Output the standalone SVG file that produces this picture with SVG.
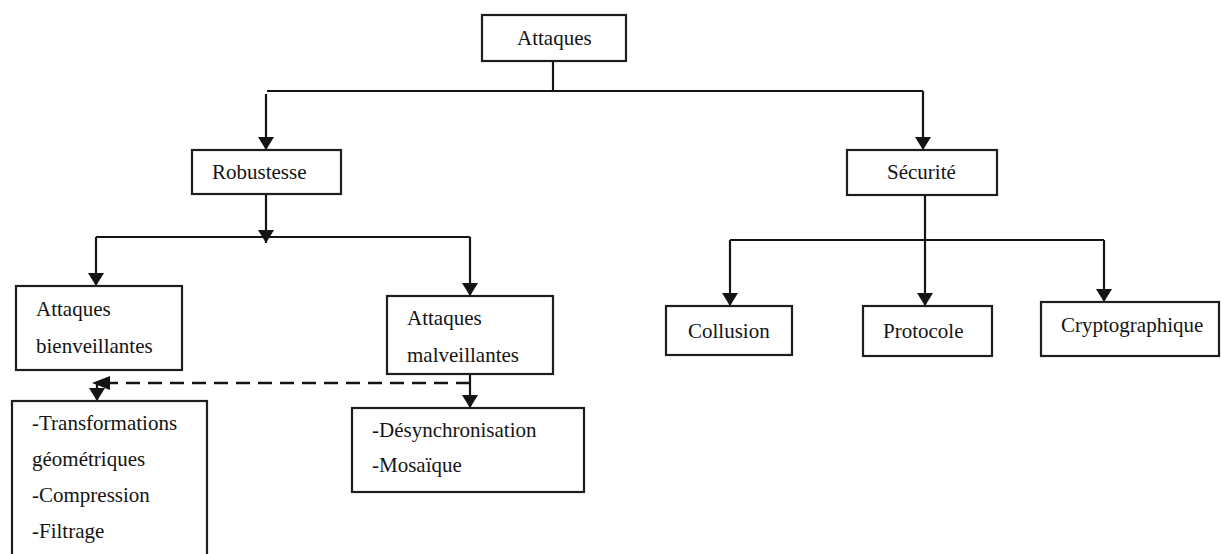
<svg xmlns="http://www.w3.org/2000/svg" width="1221" height="554" viewBox="0 0 1221 554">
  <style>
    .box { fill: #ffffff; stroke: #1e1e1e; stroke-width: 2.2; }
    .lbl { font-family: "Liberation Serif", "Times New Roman", serif; font-size: 21px; fill: #141414; }
    .wire { fill: none; stroke: #141414; stroke-width: 2.2; }
    .dash { fill: none; stroke: #141414; stroke-width: 2.6; stroke-dasharray: 14 8; }
  </style>
  <defs>
    <marker id="arrow" viewBox="0 0 13 16" refX="13" refY="8" markerWidth="13" markerHeight="16" markerUnits="userSpaceOnUse" orient="auto">
      <path d="M0,0 L13,8 L0,16 Z" fill="#141414"/>
    </marker>
  </defs>

  <rect width="1221" height="554" fill="#ffffff"/>

  <!-- connectors -->
  <g id="connectors">
    <!-- Attaques to Robustesse / Sécurité -->
    <path class="wire" d="M553,61 V91"/>
    <path class="wire" d="M267,91 H923"/>
    <path class="wire" d="M266,94 V150" marker-end="url(#arrow)"/>
    <path class="wire" d="M923,91 V150" marker-end="url(#arrow)"/>
    <!-- Robustesse branch -->
    <path class="wire" d="M266,190 V243" marker-end="url(#arrow)"/>
    <path class="wire" d="M96,237 H470"/>
    <path class="wire" d="M96,237 V286" marker-end="url(#arrow)"/>
    <path class="wire" d="M470,237 V296" marker-end="url(#arrow)"/>
    <!-- Sécurité branch -->
    <path class="wire" d="M925,195 V306" marker-end="url(#arrow)"/>
    <path class="wire" d="M730,240 H1104"/>
    <path class="wire" d="M730,240 V306" marker-end="url(#arrow)"/>
    <path class="wire" d="M1104,240 V302" marker-end="url(#arrow)"/>
    <!-- Attaques malveillantes to its list -->
    <path class="wire" d="M470,374 V408" marker-end="url(#arrow)"/>
    <!-- dashed link towards the left list -->
    <path class="dash" d="M470,383 H104"/>
    <path d="M92,383 L110,376 L110,390 Z" fill="#141414"/>
    <path class="wire" d="M97,383 V401" marker-end="url(#arrow)"/>
  </g>

  <g id="n-attaques">
    <rect class="box" x="482" y="15" width="144" height="46"/>
    <text class="lbl" x="517" y="45">Attaques</text>
  </g>

  <g id="n-robustesse">
    <rect class="box" x="192" y="150" width="149" height="44"/>
    <text class="lbl" x="212" y="179">Robustesse</text>
  </g>

  <g id="n-securite">
    <rect class="box" x="847" y="150" width="150" height="45"/>
    <text class="lbl" x="887" y="179">Sécurité</text>
  </g>

  <g id="n-bienveillantes">
    <rect class="box" x="16" y="286" width="166" height="84"/>
    <text class="lbl" x="36" y="316">Attaques</text>
    <text class="lbl" x="36" y="353">bienveillantes</text>
  </g>

  <g id="n-malveillantes">
    <rect class="box" x="387" y="296" width="166" height="78"/>
    <text class="lbl" x="407" y="325">Attaques</text>
    <text class="lbl" x="407" y="362">malveillantes</text>
  </g>

  <g id="n-collusion">
    <rect class="box" x="666" y="306" width="126" height="49"/>
    <text class="lbl" x="688" y="338">Collusion</text>
  </g>

  <g id="n-protocole">
    <rect class="box" x="863" y="306" width="129" height="50"/>
    <text class="lbl" x="883" y="338">Protocole</text>
  </g>

  <g id="n-cryptographique">
    <rect class="box" x="1041" y="302" width="178" height="54"/>
    <text class="lbl" x="1061" y="332">Cryptographique</text>
  </g>

  <g id="n-bienveillantes-liste">
    <rect class="box" x="12" y="401" width="195" height="170"/>
    <text class="lbl" x="32" y="430">-Transformations</text>
    <text class="lbl" x="32" y="466">géométriques</text>
    <text class="lbl" x="32" y="502">-Compression</text>
    <text class="lbl" x="32" y="538">-Filtrage</text>
  </g>

  <g id="n-malveillantes-liste">
    <rect class="box" x="352" y="408" width="232" height="84"/>
    <text class="lbl" x="372" y="437">-Désynchronisation</text>
    <text class="lbl" x="372" y="472">-Mosaïque</text>
  </g>
</svg>
